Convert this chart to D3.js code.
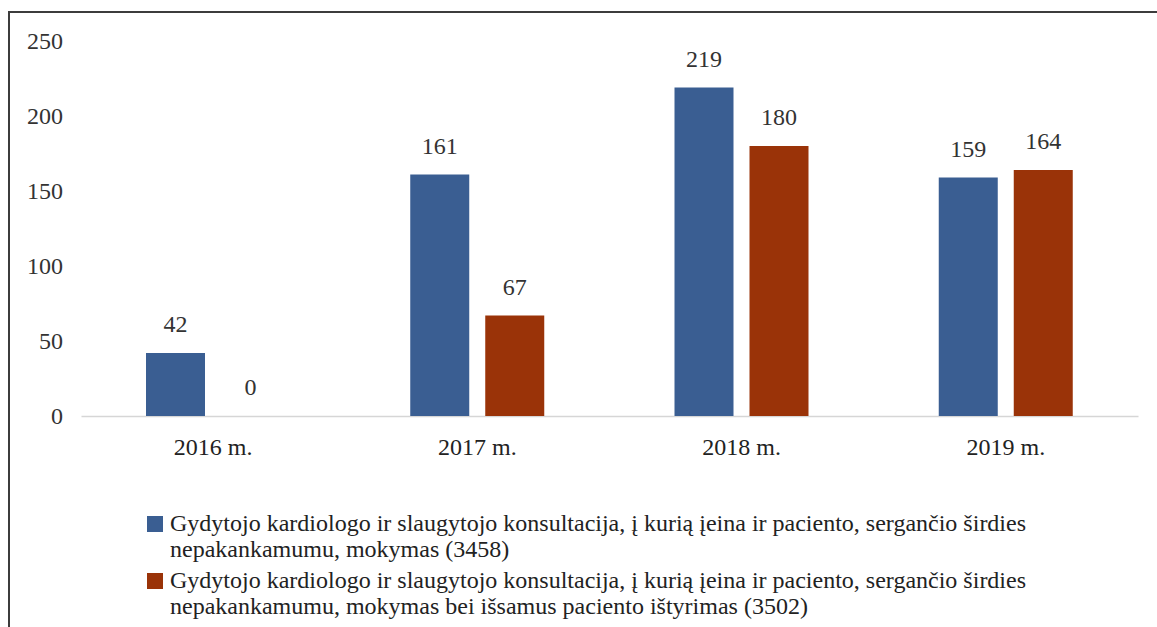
<!DOCTYPE html>
<html>
<head>
<meta charset="utf-8">
<script src="https://cdn.jsdelivr.net/npm/d3@7"></script>
<style>
  html, body { margin: 0; padding: 0; background: #fff; }
  svg { display: block; }
  svg text { font-family: "Liberation Serif", "Times New Roman", serif; }
</style>
</head>
<body>
<svg id="chart" width="1157" height="627"></svg>
<script>
// Years shown on the x axis
const categories = ["2016 m.", "2017 m.", "2018 m.", "2019 m."];
// Consultations per year, code 3458
const seriesA = [42, 161, 219, 159];
// Consultations with full patient examination, code 3502
const seriesB = [0, 67, 180, 164];
const yTicks = [0, 50, 100, 150, 200, 250];
const legendLabels = [
  ["Gydytojo kardiologo ir slaugytojo konsultacija, į kurią įeina ir paciento, sergančio širdies",
   "nepakankamumu, mokymas (3458)"],
  ["Gydytojo kardiologo ir slaugytojo konsultacija, į kurią įeina ir paciento, sergančio širdies",
   "nepakankamumu, mokymas bei išsamus paciento ištyrimas (3502)"]
];
const colors = ["#3a5e92", "#9a3308"];
const fontSize = 24;

const svg = d3.select("#chart");

// outer frame (runs past the right and bottom edges)
svg.append("rect")
  .attr("x", 9).attr("y", 12)
  .attr("width", 1170).attr("height", 640)
  .attr("fill", "none")
  .attr("stroke", "#3c3c3c")
  .attr("stroke-width", 2);

const y = d3.scaleLinear().domain([0, 250]).range([416, 41]);
const x0 = d3.scaleBand().domain(categories).range([81, 1138]).paddingInner(0).paddingOuter(0);
const x1 = d3.scaleBand().domain([0, 1]).range([65, 199]).paddingInner(16 / 75).paddingOuter(0);

// y axis labels (no axis line, no gridlines)
const yAxis = d3.axisLeft(y).tickValues(yTicks).tickSize(0).tickPadding(0);
const gy = svg.append("g").attr("transform", "translate(63,0)").call(yAxis);
gy.attr("font-family", null).attr("font-size", null);
gy.select(".domain").remove();
gy.selectAll("text")
  .attr("font-size", fontSize)
  .attr("fill", "#333");

// baseline and category labels
const xAxis = d3.axisBottom(x0).tickSize(0).tickPadding(0);
const gx = svg.append("g").attr("transform", `translate(0,${y(0)})`).call(xAxis);
gx.attr("font-family", null).attr("font-size", null);
gx.select(".domain").attr("stroke", "#d6d6d6").attr("stroke-width", 1.5);
gx.selectAll("text")
  .attr("font-size", fontSize)
  .attr("fill", "#222")
  .attr("dy", 0)
  .attr("y", 39);

// bars with value labels
const series = [seriesA, seriesB];
series.forEach((vals, si) => {
  const g = svg.append("g");
  g.selectAll("rect")
    .data(vals)
    .join("rect")
    .attr("x", (d, i) => x0(categories[i]) + x1(si))
    .attr("y", d => y(d))
    .attr("width", x1.bandwidth())
    .attr("height", d => y(0) - y(d))
    .attr("fill", colors[si]);
  g.selectAll("text")
    .data(vals)
    .join("text")
    .attr("x", (d, i) => x0(categories[i]) + x1(si) + x1.bandwidth() / 2)
    .attr("y", d => y(d) - 21)
    .attr("text-anchor", "middle")
    .attr("font-size", fontSize)
    .attr("fill", "#333")
    .text(d => d);
});

// legend
const legendTop = [516, 573];
legendLabels.forEach((lines, i) => {
  const g = svg.append("g");
  g.append("rect")
    .attr("x", 147).attr("y", legendTop[i])
    .attr("width", 16).attr("height", 16)
    .attr("fill", colors[i]);
  lines.forEach((t, k) => {
    g.append("text")
      .attr("x", 170)
      .attr("y", legendTop[i] + 15 + k * 26)
      .attr("font-size", fontSize)
      .attr("fill", "#222")
      .text(t);
  });
});
</script>
</body>
</html>
